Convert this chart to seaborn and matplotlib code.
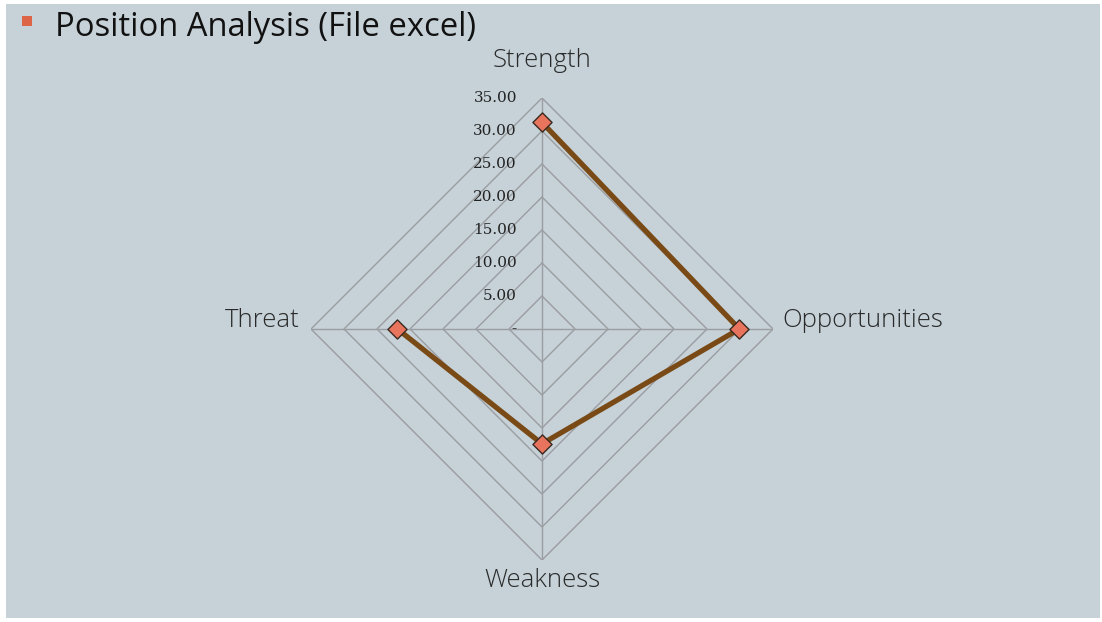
"""
Position Analysis radar chart (SWOT scores)
"""

import numpy as np
import pandas as pd
import matplotlib
matplotlib.use("Agg")
import matplotlib.pyplot as plt
import seaborn as sns
from matplotlib.patches import Rectangle

# ============================== DATA ==============================
categories = ["Strength", "Opportunities", "Weakness", "Threat"]
scores = [31.3, 29.9, 17.4, 21.9]
ring_levels = [0, 5, 10, 15, 20, 25, 30, 35]
title = "Position Analysis (File excel)"

# ============================== STYLE ==============================
sns.set_theme(style="white")
plt.rcParams["font.family"] = ["Open Sans", "DejaVu Sans"]

bg_color = "#C6D2D8"
grid_color = "#9B9EA1"
line_color = "#7A4A16"
marker_color = "#E8745E"
bullet_color = "#DD6446"

# closed polygon for the series
theta = np.linspace(0, 2 * np.pi, len(categories), endpoint=False)
df = pd.DataFrame({"theta": np.append(theta, theta[0]),
                   "score": scores + scores[:1]})

# ============================== FIGURE ==============================
fig = plt.figure(figsize=(11.02, 6.22), dpi=100, facecolor="white")
fig.patches.append(Rectangle((6 / 1102, 4 / 622), 1094 / 1102, 614 / 622,
                             transform=fig.transFigure, facecolor=bg_color,
                             edgecolor="none", zorder=-2))

# title with square bullet
fig.patches.append(Rectangle((22 / 1102, 1 - 26 / 622), 10 / 1102, 10 / 622,
                             transform=fig.transFigure, facecolor=bullet_color,
                             edgecolor="none", zorder=-1))
fig.text(55 / 1102, 1 - 27 / 622, title, fontsize=23.6, color="#111111",
         ha="left", va="center")

# polar axes centred at (542, 329) px with 231 px radius
cx, cy, rad = 542 / 1102, 1 - 329 / 622, 231
ax = fig.add_axes([cx - rad / 1102, cy - rad / 622, 2 * rad / 1102, 2 * rad / 622],
                  projection="polar")
ax.set_facecolor("none")
ax.set_theta_zero_location("N")
ax.set_theta_direction(-1)
ax.set_ylim(0, 35)
ax.grid(False)
ax.spines["polar"].set_visible(False)
ax.set_xticks([])
ax.set_yticks([])

# polygon rings and spokes
ring_theta = np.append(theta, theta[0])
for r in ring_levels[1:]:
    ax.plot(ring_theta, [r] * len(ring_theta), color=grid_color, lw=1.0, zorder=1)
for t in theta:
    ax.plot([t, t], [0, ring_levels[-1]], color=grid_color, lw=1.0, zorder=1)

# series line and markers
sns.lineplot(data=df, x="theta", y="score", sort=False, ax=ax,
             color=line_color, lw=3.8, zorder=3)
sns.scatterplot(data=df.iloc[:-1], x="theta", y="score", ax=ax, marker="D",
                s=95, color=marker_color, edgecolor="#3A2A20", linewidth=1.0,
                zorder=4)
ax.set_xlabel("")
ax.set_ylabel("")

# value labels along the top spoke
for r in ring_levels:
    lbl = "-" if r == 0 else f"{r:.2f}"
    ax.annotate(lbl, xy=(0, r), xytext=(-18, 0), textcoords="offset points",
                ha="right", va="center", fontsize=11, color="#222222",
                family="DejaVu Serif", annotation_clip=False)

# category labels
offsets = [((0, 27), "center", "center"),
           ((7, 6), "left", "center"),
           ((0, -15), "center", "center"),
           ((-8, 6), "right", "center")]
for t, name, (off, ha, va) in zip(theta, categories, offsets):
    ax.annotate(name, xy=(t, 35), xytext=off, textcoords="offset points",
                ha=ha, va=va, fontsize=18.5, color="#2A2A2A",
                fontweight="light", annotation_clip=False)

fig.savefig("out.png", dpi=100, facecolor="white")
